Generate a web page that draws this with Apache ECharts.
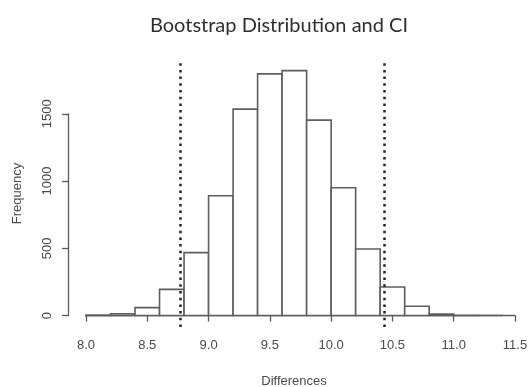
<!DOCTYPE html>
<html>
<head>
<meta charset="utf-8">
<script src="https://cdn.jsdelivr.net/npm/echarts@6/dist/echarts.min.js"></script>
<style>
  html, body { margin: 0; padding: 0; background: #fff; }
  #main { width: 531px; height: 387px; }
</style>
</head>
<body>
<div id="main"></div>
<script>
// histogram bins (left edge, right edge) and counts
const binStarts = [8.0, 8.2, 8.4, 8.6, 8.8, 9.0, 9.2, 9.4, 9.6, 9.8, 10.0, 10.2, 10.4, 10.6, 10.8, 11.0, 11.2];
const binEnds = [8.2, 8.4, 8.6, 8.8, 9.0, 9.2, 9.4, 9.6, 9.8, 10.0, 10.2, 10.4, 10.6, 10.8, 11.0, 11.2, 11.4];
const counts = [3, 13, 59, 195, 468, 891, 1535, 1797, 1821, 1453, 950, 495, 212, 69, 12, 1, 0];
// confidence interval bounds
const ciBounds = [8.772, 10.425];
const xTicks = [8.0, 8.5, 9.0, 9.5, 10.0, 10.5, 11.0, 11.5];
const yTicks = [0, 500, 1000, 1500];

const chart = echarts.init(document.getElementById('main'));

const labelFont = 'Liberation Sans, Arial, sans-serif';
const axisGrey = '#5a5a5a';
const textGrey = '#4a4a4a';

const histData = binStarts.map((s, i) => [s, binEnds[i], counts[i]]);

chart.setOption({
    animation: false,
    graphic: [
        {
            type: 'text',
            x: 279,
            y: 26,
            style: {
                text: 'Bootstrap Distribution and CI',
                font: '20px Lato, sans-serif',
                fill: '#2e2e2e',
                align: 'center',
                verticalAlign: 'middle'
            }
        },
        {
            type: 'text',
            x: 294,
            y: 381,
            style: {
                text: 'Differences',
                font: '13px ' + labelFont,
                fill: textGrey,
                align: 'center',
                verticalAlign: 'middle'
            }
        }
    ],
    grid: [
        // data area
        { left: 86, right: 16, top: 60, bottom: 60 },
        // y axis only
        { left: 68, right: 16, top: 113.8, bottom: 71.4 },
        // plot region, for y axis name
        { left: 68, right: 12, top: 60, bottom: 60 }
    ],
    xAxis: [
        {
            gridIndex: 0, type: 'value', min: xTicks[0], max: xTicks[xTicks.length - 1], interval: 0.5,
            splitLine: { show: false },
            axisLine: { lineStyle: { color: axisGrey, width: 1.3 } },
            axisTick: { length: 6, lineStyle: { color: axisGrey, width: 1.3 } },
            axisLabel: {
                margin: 12, color: textGrey, fontFamily: labelFont, fontSize: 13,
                formatter: v => v.toFixed(1)
            }
        },
        { gridIndex: 1, type: 'value', show: false },
        { gridIndex: 2, type: 'value', show: false }
    ],
    yAxis: [
        { gridIndex: 0, type: 'value', min: -85, max: 1900, show: false },
        {
            gridIndex: 1, type: 'value', min: yTicks[0], max: yTicks[yTicks.length - 1], interval: 500,
            splitLine: { show: false },
            axisLine: { show: true, lineStyle: { color: axisGrey, width: 1.3 } },
            axisTick: { show: true, length: 6, lineStyle: { color: axisGrey, width: 1.3 } },
            axisLabel: {
                margin: 14, rotate: 90, color: textGrey, fontFamily: labelFont, fontSize: 13,
                formatter: v => String(v)
            }
        },
        {
            gridIndex: 2, type: 'value', min: 0, max: 1,
            name: 'Frequency', nameLocation: 'middle', nameGap: 44, nameRotate: 90,
            nameTextStyle: { color: textGrey, fontFamily: labelFont, fontSize: 13 },
            axisLine: { show: false }, axisTick: { show: false }, axisLabel: { show: false },
            splitLine: { show: false }
        }
    ],
    series: [
        {
            type: 'custom',
            xAxisIndex: 0,
            yAxisIndex: 0,
            data: histData,
            renderItem(params, api) {
                const p0 = api.coord([api.value(0), 0]);
                const p1 = api.coord([api.value(1), api.value(2)]);
                return {
                    type: 'rect',
                    shape: { x: p0[0], y: p1[1], width: p1[0] - p0[0], height: p0[1] - p1[1] },
                    style: { fill: '#fff', stroke: '#5e5e5e', lineWidth: 1.6 }
                };
            },
            markLine: {
                silent: true,
                symbol: 'none',
                label: { show: false },
                lineStyle: { color: '#222', width: 2.5, type: [2.5, 4.2] },
                data: ciBounds.map(v => ({ xAxis: v }))
            }
        }
    ]
});
</script>
</body>
</html>
